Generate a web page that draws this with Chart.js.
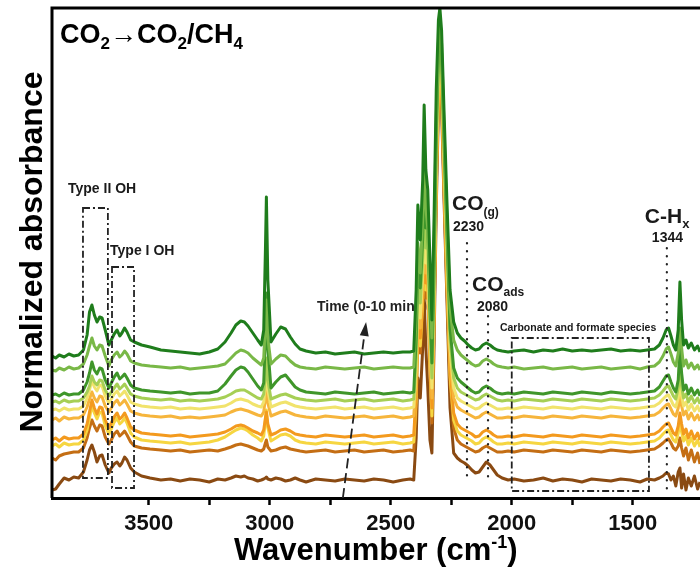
<!DOCTYPE html>
<html>
<head>
<meta charset="utf-8">
<script src="https://cdn.jsdelivr.net/npm/chart.js@4.4.1/dist/chart.umd.min.js"></script>
<style>
  html, body { margin: 0; padding: 0; background: #fff; }
  canvas { display: block; }
</style>
</head>
<body>
<canvas id="myChart" width="700" height="580"></canvas>
<script>
// wavenumbers (cm-1), shared by every spectrum
const wavenumber = [
  3900, 3885, 3870, 3850, 3830, 3810, 3790, 3770, 3755, 3745,
  3735, 3725, 3714, 3703, 3693, 3680, 3665, 3655, 3643, 3631,
  3620, 3611, 3600, 3590, 3575, 3560, 3530, 3495, 3450, 3410,
  3370, 3330, 3290, 3250, 3215, 3185, 3160, 3140, 3120, 3105,
  3090, 3070, 3050, 3035, 3025, 3018, 3014, 3008, 2995, 2975,
  2955, 2935, 2915, 2895, 2875, 2850, 2810, 2770, 2730, 2690,
  2650, 2610, 2570, 2530, 2490, 2450, 2420, 2405, 2395, 2388,
  2378, 2368, 2362, 2355, 2347, 2338, 2330, 2322, 2312, 2303,
  2297, 2290, 2280, 2268, 2255, 2240, 2225, 2210, 2195, 2180,
  2165, 2150, 2135, 2120, 2105, 2090, 2075, 2060, 2040, 2015,
  1990, 1950, 1910, 1870, 1830, 1790, 1750, 1710, 1670, 1630,
  1590, 1550, 1510, 1470, 1440, 1410, 1390, 1375, 1362, 1352,
  1342, 1332, 1322, 1312, 1305, 1298, 1290, 1280, 1270, 1258,
  1245, 1232, 1222
];

// stacked normalized absorbance (offset, arbitrary units), 10 min at top -> 0 min at bottom
const t10 = [
  142, 140, 143, 141, 144, 142, 143, 148, 163, 186,
  193, 183, 176, 181, 180, 168, 153, 158, 164, 168,
  162, 165, 170, 166, 158, 156, 153, 151, 148, 147,
  146, 145, 144, 146, 149, 156, 165, 173, 177, 176,
  172, 165, 158, 153, 168, 248, 301, 218, 156, 164,
  171, 169, 161, 154, 149, 147, 145, 146, 144, 145,
  146, 144, 145, 146, 145, 146, 146, 147, 208, 293,
  258, 318, 393, 328, 308, 238, 178, 268, 408, 478,
  490, 468, 388, 298, 208, 176, 165, 160, 157, 153,
  150, 148, 149, 153, 155, 153, 150, 148, 147, 146,
  147, 148, 146, 148, 147, 149, 147, 148, 147, 148,
  149, 147, 148, 147, 148, 149, 153, 160, 168, 170,
  162, 153, 148, 168, 216, 178, 153, 158, 150, 155,
  148, 152, 146
];
const t9 = [
  128, 127, 130, 128, 131, 129, 130, 134, 143, 152,
  160, 152, 148, 153, 152, 142, 132, 138, 143, 146,
  141, 143, 147, 144, 137, 135, 133, 132, 131, 130,
  131, 129, 130, 131, 132, 134, 140, 145, 148, 147,
  145, 140, 136, 133, 140, 175, 198, 160, 134, 139,
  143, 142, 137, 133, 131, 130, 129, 131, 130, 129,
  130, 131, 129, 130, 131, 130, 130, 131, 180, 255,
  225, 280, 345, 290, 270, 210, 160, 240, 380, 455,
  480, 455, 370, 280, 190, 158, 148, 143, 140, 137,
  134, 132, 133, 137, 139, 137, 134, 132, 131, 130,
  131, 129, 130, 131, 129, 130, 131, 129, 130, 131,
  129, 130, 131, 129, 131, 132, 136, 142, 149, 151,
  144, 136, 132, 145, 170, 150, 132, 138, 130, 135,
  129, 133, 128
];
const t8 = [
  103, 104, 102, 105, 103, 104, 104, 108, 116, 125,
  136, 128, 124, 130, 129, 118, 110, 115, 121, 125,
  119, 121, 124, 120, 113, 110, 108, 107, 106, 105,
  106, 104, 105, 105, 107, 114, 122, 128, 131, 130,
  126, 119, 112, 108, 115, 160, 205, 150, 110, 116,
  121, 123, 117, 111, 108, 106, 105, 104, 106, 105,
  104, 105, 106, 104, 105, 106, 105, 106, 160, 240,
  210, 260, 320, 270, 275, 190, 135, 220, 365, 445,
  470, 445, 360, 270, 170, 130, 120, 116, 113, 110,
  107, 105, 106, 110, 112, 110, 107, 105, 104, 105,
  104, 106, 105, 104, 106, 105, 104, 106, 105, 104,
  106, 105, 104, 105, 106, 107, 111, 117, 122, 123,
  116, 110, 106, 118, 150, 125, 108, 113, 104, 110,
  103, 108, 102
];
const t7 = [
  96, 97, 95, 98, 96, 97, 97, 100, 106, 112,
  122, 116, 113, 118, 117, 108, 102, 106, 110, 114,
  109, 111, 114, 110, 104, 102, 100, 99, 98, 99,
  97, 98, 97, 98, 99, 101, 104, 107, 108, 108,
  106, 103, 100, 99, 104, 125, 140, 118, 99, 101,
  103, 104, 102, 100, 99, 98, 97, 98, 99, 97,
  98, 99, 97, 98, 99, 97, 98, 99, 140, 220,
  195, 240, 300, 250, 255, 175, 120, 205, 350, 435,
  462, 440, 350, 255, 160, 120, 110, 106, 104, 102,
  100, 98, 99, 102, 104, 102, 100, 98, 97, 98,
  97, 99, 98, 97, 99, 98, 97, 99, 98, 97,
  99, 98, 97, 98, 99, 100, 103, 107, 111, 112,
  107, 102, 99, 110, 128, 112, 100, 104, 96, 102,
  95, 100, 94
];
const t6 = [
  88, 89, 87, 90, 88, 89, 89, 92, 100, 108,
  118, 111, 107, 113, 112, 102, 95, 99, 104, 107,
  102, 104, 107, 103, 96, 94, 92, 91, 90, 91,
  89, 90, 89, 90, 91, 92, 95, 98, 99, 98,
  97, 94, 92, 91, 96, 115, 128, 108, 91, 93,
  95, 96, 94, 92, 91, 90, 89, 90, 91, 89,
  90, 91, 89, 90, 91, 89, 90, 91, 130, 205,
  180, 225, 285, 235, 240, 160, 110, 195, 340, 425,
  455, 432, 340, 245, 150, 110, 100, 97, 95, 93,
  91, 89, 90, 93, 95, 93, 91, 89, 89, 90,
  89, 91, 90, 89, 91, 90, 89, 91, 90, 89,
  91, 90, 89, 90, 91, 92, 95, 99, 102, 103,
  98, 93, 91, 100, 115, 102, 92, 96, 88, 94,
  87, 92, 86
];
const t5 = [
  78, 80, 77, 81, 79, 80, 80, 83, 91, 99,
  106, 100, 96, 102, 101, 92, 86, 90, 95, 98,
  93, 95, 98, 94, 87, 85, 83, 82, 81, 82,
  80, 81, 80, 81, 82, 83, 86, 88, 89, 88,
  87, 85, 83, 82, 86, 100, 108, 95, 82, 84,
  86, 87, 85, 83, 82, 81, 80, 82, 81, 80,
  81, 82, 80, 81, 82, 80, 81, 82, 120, 195,
  170, 215, 275, 225, 230, 150, 100, 185, 330, 418,
  450, 425, 330, 235, 140, 100, 91, 88, 86, 84,
  82, 80, 81, 84, 86, 84, 82, 80, 80, 81,
  80, 82, 81, 80, 82, 81, 80, 82, 81, 80,
  82, 81, 80, 81, 82, 83, 86, 90, 93, 94,
  89, 84, 82, 90, 102, 92, 83, 87, 79, 85,
  78, 83, 77
];
const t4 = [
  58, 60, 57, 61, 59, 60, 60, 64, 74, 86,
  98, 90, 84, 91, 90, 78, 70, 75, 81, 85,
  79, 81, 85, 80, 71, 68, 65, 64, 63, 62,
  63, 61, 62, 63, 64, 66, 69, 72, 73, 72,
  70, 67, 65, 63, 68, 80, 86, 74, 63, 65,
  68, 69, 67, 64, 63, 62, 61, 63, 62, 61,
  62, 63, 61, 62, 63, 61, 62, 63, 105, 180,
  160, 205, 265, 215, 220, 140, 90, 175, 320, 410,
  445, 418, 320, 225, 130, 85, 74, 70, 68, 66,
  64, 61, 62, 66, 68, 66, 63, 61, 61, 62,
  61, 63, 62, 61, 63, 62, 61, 63, 62, 61,
  63, 62, 61, 62, 63, 64, 67, 71, 74, 75,
  70, 65, 63, 72, 85, 74, 64, 69, 60, 67,
  59, 65, 58
];
const t3 = [
  52, 54, 51, 55, 53, 54, 54, 58, 68, 80,
  93, 85, 79, 86, 85, 72, 64, 69, 76, 80,
  74, 76, 80, 75, 65, 61, 58, 57, 56, 55,
  56, 54, 55, 56, 58, 61, 65, 68, 70, 69,
  67, 63, 60, 57, 62, 78, 88, 70, 57, 60,
  63, 64, 62, 58, 56, 55, 54, 56, 55, 54,
  55, 56, 54, 55, 56, 54, 55, 56, 98, 172,
  152, 198, 258, 208, 212, 132, 82, 168, 315, 405,
  440, 412, 315, 218, 122, 78, 67, 63, 61, 59,
  57, 54, 55, 59, 61, 59, 56, 54, 54, 55,
  54, 56, 55, 54, 56, 55, 54, 56, 55, 54,
  56, 55, 54, 55, 56, 57, 60, 64, 67, 68,
  63, 58, 56, 65, 78, 66, 57, 62, 53, 60,
  52, 58, 51
];
const t2 = [
  40, 38, 42, 44, 45, 46, 46, 50, 60, 70,
  78, 72, 67, 73, 72, 61, 54, 58, 64, 67,
  62, 64, 67, 63, 56, 52, 50, 49, 48, 47,
  48, 46, 47, 48, 47, 49, 51, 53, 54, 53,
  52, 50, 48, 47, 49, 55, 58, 51, 47, 48,
  50, 51, 49, 48, 47, 46, 47, 48, 46, 47,
  48, 46, 47, 48, 46, 47, 48, 47, 90, 165,
  145, 190, 250, 200, 205, 125, 75, 160, 310, 400,
  435, 405, 310, 210, 115, 70, 58, 54, 52, 50,
  48, 46, 47, 50, 52, 50, 48, 46, 46, 47,
  46, 48, 47, 46, 48, 47, 46, 48, 47, 46,
  48, 47, 46, 47, 48, 49, 52, 55, 58, 59,
  55, 50, 48, 52, 60, 50, 42, 50, 38, 48,
  36, 45, 34
];
const t0 = [
  8, 9, 14, 20, 18, 21, 20, 26, 38, 48,
  53, 46, 36, 42, 43, 33, 25, 30, 34, 36,
  32, 35, 41, 38, 30, 26, 22, 20, 18, 19,
  17, 19, 18, 16, 19, 18, 20, 22, 21, 22,
  20, 19, 17, 18, 19, 20, 21, 19, 18, 20,
  19, 17, 18, 20, 18, 16, 19, 18, 17, 19,
  18, 17, 19, 18, 16, 18, 19, 18, 60, 120,
  100, 150, 200, 150, 110, 58, 45, 140, 290, 390,
  430, 390, 300, 200, 90, 45, 40, 37, 35, 32,
  28, 25, 26, 31, 36, 33, 28, 23, 20, 18,
  19, 17, 18, 20, 17, 19, 18, 16, 19, 18,
  17, 19, 18, 16, 19, 18, 20, 22, 25, 24,
  18, 22, 12, 26, 30, 10, 24, 8, 20, 12,
  22, 9, 16
];

const spectra = [t10, t9, t8, t7, t6, t5, t4, t3, t2, t0];
const colors = ['#1f7d1c', '#79b847', '#3f962a', '#a6cf55', '#f1e36c',
                '#f6b53c', '#f39a1e', '#f6d641', '#c46e14', '#8a4a12'];

const FONT = '"Liberation Sans", Arial, Helvetica, sans-serif';

function rich(ctx, x, y, parts) {
  for (const [t, size, dy] of parts) {
    ctx.font = 'bold ' + size + 'px ' + FONT;
    ctx.fillText(t, x, y + dy);
    x += ctx.measureText(t).width;
  }
}

const notes = {
  id: 'notes',
  beforeDatasetsDraw(chart) {
    const c = chart.ctx, X = v => chart.scales.x.getPixelForValue(v), Y = v => chart.scales.y.getPixelForValue(v);
    c.save();
    c.fillStyle = '#222';
    c.font = 'bold 14px ' + FONT;
    c.fillText('Time (0-10 mins)', X(2805), Y(187));
    c.restore();
  },
  afterDatasetsDraw(chart) {
    const c = chart.ctx, a = chart.chartArea;
    const X = v => chart.scales.x.getPixelForValue(v), Y = v => chart.scales.y.getPixelForValue(v);
    c.save();
    c.strokeStyle = '#222';
    c.fillStyle = '#222';

    // dash-dot boxes
    c.lineWidth = 1.8;
    c.setLineDash([7, 3, 2, 3]);
    const box = (w1, w2, h1, h2) => c.strokeRect(X(w1), Y(h1), X(w2) - X(w1), Y(h2) - Y(h1));
    box(3772, 3669, 290, 20);
    box(3652, 3561, 231, 10);
    box(2000, 1433, 160, 7);

    // dotted guides
    c.lineWidth = 2.2;
    c.lineCap = 'round';
    c.setLineDash([0.5, 7.5]);
    const vline = (w, h1, h2) => { c.beginPath(); c.moveTo(X(w), Y(h1)); c.lineTo(X(w), Y(h2)); c.stroke(); };
    vline(2185, 255, 22);
    vline(2098, 182, 20);
    vline(1359, 250, 8);

    // time arrow
    c.lineCap = 'butt';
    c.lineWidth = 1.8;
    c.setLineDash([10, 5]);
    const x0 = X(2698), y0 = Y(0), x1 = X(2602), y1 = Y(176);
    const ang = Math.atan2(y1 - y0, x1 - x0);
    c.beginPath(); c.moveTo(x0, y0); c.lineTo(x1 - 10 * Math.cos(ang), y1 - 10 * Math.sin(ang)); c.stroke();
    c.setLineDash([]);
    c.beginPath();
    c.moveTo(x1, y1);
    c.lineTo(x1 - 14 * Math.cos(ang) + 4.5 * Math.sin(ang), y1 - 14 * Math.sin(ang) - 4.5 * Math.cos(ang));
    c.lineTo(x1 - 14 * Math.cos(ang) - 4.5 * Math.sin(ang), y1 - 14 * Math.sin(ang) + 4.5 * Math.cos(ang));
    c.closePath(); c.fill();

    // labels
    c.fillStyle = '#1a1a1a';
    c.font = 'bold 14px ' + FONT;
    c.fillText('Type II OH', X(3834), Y(305));
    c.fillText('Type I OH', X(3660), Y(243));
    rich(c, X(2247), Y(288), [['CO', 21, 0], ['(g)', 12, 6]]);
    rich(c, X(2243), Y(267), [['2230', 14, 0]]);
    rich(c, X(2164), Y(207), [['CO', 21, 0], ['ads', 12, 5]]);
    rich(c, X(2144), Y(187), [['2080', 14, 0]]);
    rich(c, X(1450), Y(275), [['C-H', 21, 0], ['x', 13, 5]]);
    rich(c, X(1421), Y(256), [['1344', 14, 0]]);
    c.font = 'bold 10.5px ' + FONT;
    c.fillText('Carbonate and formate species', X(2049), Y(167));

    // frame: left and top edges
    c.strokeStyle = '#000';
    c.lineWidth = 3;
    c.beginPath();
    c.moveTo(a.left, a.bottom); c.lineTo(a.left, a.top); c.lineTo(a.right + 2, a.top);
    c.stroke();
    c.restore();
  },
  afterDraw(chart) {
    const c = chart.ctx;
    c.save();
    c.fillStyle = '#000';
    c.textBaseline = 'alphabetic';
    rich(c, 60, 43, [['CO', 27, 0], ['2', 17, 6], ['\u2192CO', 27, 0], ['2', 17, 6], ['/CH', 27, 0], ['4', 17, 6]]);

    // axis titles
    rich(c, 234, 560, [['Wavenumber (cm', 31, 0], ['-1', 18, -12], [')', 31, 0]]);
    c.translate(42, 252);
    c.rotate(-Math.PI / 2);
    c.textAlign = 'center';
    c.font = 'bold 32px ' + FONT;
    c.fillText('Normalized absorbance', 0, 0);
    c.restore();
  }
};

const ctx = document.getElementById('myChart').getContext('2d');
const myChart = new Chart(ctx, {
  type: 'line',
  data: {
    datasets: spectra.map((s, i) => ({
      data: s.map((v, j) => ({ x: wavenumber[j], y: v })),
      borderColor: colors[i],
      borderWidth: 3,
      borderJoinStyle: 'round',
      pointRadius: 0,
      tension: 0,
      fill: false
    }))
  },
  options: {
    responsive: false,
    animation: false,
    layout: { padding: { left: 52, top: 8, right: 0, bottom: 0 } },
    plugins: { legend: { display: false }, tooltip: { enabled: false } },
    scales: {
      x: {
        type: 'linear',
        reverse: true,
        min: 1222,
        max: 3900,
        afterFit: s => { s.height = 82; },
        afterBuildTicks: s => {
          s.ticks = s.ticks.filter(t => t.value >= 1250 && t.value <= 3750 && t.value % 250 === 0);
        },
        ticks: {
          stepSize: 250,
          autoSkip: false,
          maxRotation: 0,
          padding: 6,
          color: '#111',
          font: { family: FONT, size: 22, weight: 'bold' },
          callback: v => (v % 500 === 0 ? String(v) : '')
        },
        grid: { drawOnChartArea: false, drawTicks: true, tickLength: 7, tickWidth: 2.5, tickColor: '#000' },
        border: { color: '#000', width: 3 }
      },
      y: { display: false, min: 0, max: 490 }
    }
  },
  plugins: [notes]
});
</script>
</body>
</html>
